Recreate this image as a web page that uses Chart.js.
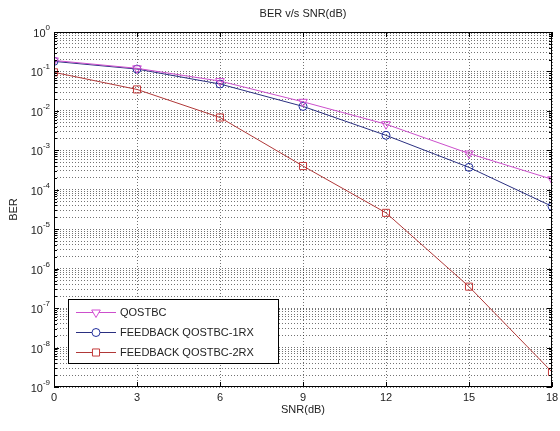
<!DOCTYPE html>
<html>
<head>
<meta charset="utf-8">
<script src="https://cdn.jsdelivr.net/npm/chart.js@4/dist/chart.umd.min.js"></script>
<style>
  html, body { margin: 0; padding: 0; background: #fff; }
  #box { width: 560px; height: 431px; }
</style>
</head>
<body>
<div id="box"><canvas id="ber-chart"></canvas></div>
<script>
// BER vs SNR data
var snr = [0, 3, 6, 9, 12, 15, 18];
var berQostbc = [0.19, 0.12, 0.057, 0.017, 0.0046, 0.00083, 0.000185];
var berFeedback1rx = [0.18, 0.115, 0.048, 0.013, 0.0024, 0.00037, 0.000038];
var berFeedback2rx = [0.095, 0.035, 0.0068, 0.0004, 0.000026, 3.5e-7, 2.4e-9];
var seriesNames = ['QOSTBC', 'FEEDBACK QOSTBC-1RX', 'FEEDBACK QOSTBC-2RX'];
var xTicks = [0, 3, 6, 9, 12, 15, 18];
var yDecades = [-9, -8, -7, -6, -5, -4, -3, -2, -1, 0];

var colors = ['#d44ed4', '#23309e', '#c43a3a'];
var lineColors = ['#cc4fcc', '#2a2f80', '#b03838'];
var styles = ['triangle', 'circle', 'rect'];
var rotations = [180, 0, 0];
var font = '"Liberation Sans", Arial, sans-serif';

function pts(ys) {
  return snr.map(function (x, i) { return { x: x, y: ys[i] }; });
}

function makeSet(i, ys) {
  return {
    label: seriesNames[i],
    data: pts(ys),
    borderColor: lineColors[i],
    borderWidth: 1,
    pointStyle: styles[i],
    rotation: rotations[i],
    pointRadius: i == 1 ? 4 : 5,
    pointBorderColor: colors[i],
    pointBackgroundColor: 'rgba(0,0,0,0)',
    pointBorderWidth: 1,
    tension: 0
  };
}

// axes labels, ticks, box and legend, drawn MATLAB style
var matlabDeco = {
  id: 'matlabDeco',
  afterDraw: function (chart) {
    var ctx = chart.ctx;
    var a = chart.chartArea;
    var xs = chart.scales.x, ys = chart.scales.y;
    ctx.save();

    // box
    ctx.strokeStyle = '#000';
    ctx.lineWidth = 1;
    ctx.strokeRect(a.left + 0.5, a.top + 0.5, a.right - a.left - 1, a.bottom - a.top - 1);

    // y ticks inward
    ys.ticks.forEach(function (t) {
      var py = Math.round(ys.getPixelForValue(t.value)) + 0.5;
      var major = Math.abs(Math.log10(t.value) - Math.round(Math.log10(t.value))) < 1e-6;
      var len = major ? 5 : 3;
      ctx.beginPath();
      ctx.moveTo(a.left, py); ctx.lineTo(a.left + len, py);
      ctx.moveTo(a.right, py); ctx.lineTo(a.right - len, py);
      ctx.stroke();
    });
    // x ticks inward
    xTicks.forEach(function (v) {
      var px = Math.round(xs.getPixelForValue(v)) + 0.5;
      ctx.beginPath();
      ctx.moveTo(px, a.bottom); ctx.lineTo(px, a.bottom - 5);
      ctx.moveTo(px, a.top); ctx.lineTo(px, a.top + 5);
      ctx.stroke();
    });

    ctx.fillStyle = '#222';
    // x tick labels
    ctx.font = '11px ' + font;
    ctx.textAlign = 'center';
    ctx.textBaseline = 'top';
    xTicks.forEach(function (v) {
      ctx.fillText(String(v), xs.getPixelForValue(v), a.bottom + 5);
    });

    // y tick labels 10^n
    yDecades.forEach(function (n) {
      var py = ys.getPixelForValue(Math.pow(10, n));
      var exp = String(n);
      ctx.font = '8px ' + font;
      var ew = ctx.measureText(exp).width;
      ctx.textAlign = 'left';
      ctx.textBaseline = 'alphabetic';
      ctx.fillText(exp, a.left - 4 - ew, py - 2);
      ctx.font = '11px ' + font;
      ctx.textAlign = 'right';
      ctx.fillText('10', a.left - 4 - ew, py + 5);
    });

    // titles
    ctx.font = '11px ' + font;
    ctx.textAlign = 'center';
    ctx.textBaseline = 'middle';
    ctx.fillText('BER v/s SNR(dB)', (a.left + a.right) / 2, 14);
    ctx.fillText('SNR(dB)', (a.left + a.right) / 2, 410);
    ctx.save();
    ctx.translate(14, (a.top + a.bottom) / 2);
    ctx.rotate(-Math.PI / 2);
    ctx.fillText('BER', 0, 0);
    ctx.restore();

    // legend
    var lx = 68, ly = 299, lw = 210, lh = 64;
    ctx.fillStyle = '#fff';
    ctx.fillRect(lx, ly, lw, lh);
    ctx.strokeStyle = '#000';
    ctx.strokeRect(lx + 0.5, ly + 0.5, lw, lh);
    chart.data.datasets.forEach(function (ds, i) {
      var cy = ly + 13 + i * 20;
      ctx.strokeStyle = ds.borderColor;
      ctx.lineWidth = 1;
      ctx.beginPath();
      ctx.moveTo(lx + 8, cy + 0.5); ctx.lineTo(lx + 48, cy + 0.5);
      ctx.stroke();
      ctx.strokeStyle = ds.pointBorderColor;
      ctx.fillStyle = '#fff';
      Chart.helpers.drawPoint(ctx, {
        pointStyle: ds.pointStyle, rotation: ds.rotation, radius: ds.pointRadius, borderWidth: 1
      }, lx + 28, cy + 0.5);
      ctx.fillStyle = '#222';
      ctx.font = '11px ' + font;
      ctx.textAlign = 'left';
      ctx.textBaseline = 'middle';
      ctx.fillText(ds.label, lx + 52, cy + 1);
    });
    ctx.restore();
  }
};

var berChart = new Chart(document.getElementById('ber-chart'), {
  type: 'line',
  data: {
    datasets: [
      makeSet(0, berQostbc),
      makeSet(1, berFeedback1rx),
      makeSet(2, berFeedback2rx)
    ]
  },
  options: {
    responsive: true,
    maintainAspectRatio: false,
    animation: false,
    layout: { padding: { left: 54, right: 8, top: 32, bottom: 44 } },
    plugins: {
      legend: { display: false },
      tooltip: { enabled: false }
    },
    scales: {
      x: {
        type: 'linear',
        min: 0, max: 18,
        afterBuildTicks: function (s) {
          s.ticks = xTicks.map(function (v) { return { value: v }; });
        },
        ticks: { display: false },
        border: { display: false, dash: [1, 2] },
        grid: { color: 'rgba(0,0,0,0.55)', drawTicks: false }
      },
      y: {
        type: 'logarithmic',
        min: 1e-9, max: 1,
        afterBuildTicks: function (s) {
          var t = [];
          yDecades.forEach(function (n) {
            for (var k = 1; k <= 9; k++) {
              if (n == 0 && k > 1) break;
              t.push({ value: k * Math.pow(10, n) });
            }
          });
          s.ticks = t;
        },
        ticks: { display: false },
        border: { display: false, dash: [1, 2] },
        grid: { color: 'rgba(0,0,0,0.55)', drawTicks: false }
      }
    }
  },
  plugins: [matlabDeco]
});
</script>
</body>
</html>
